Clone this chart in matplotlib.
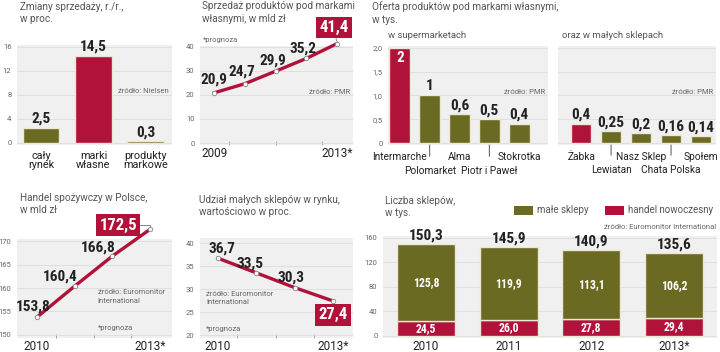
import matplotlib
matplotlib.use('Agg')
import matplotlib.pyplot as plt
from matplotlib.patches import Rectangle

# ---- data ----
share_cats = ['cały\nrynek', 'marki\nwłasne', 'produkty\nmarkowe']
share_vals = [2.5, 14.5, 0.3]

pl_years = ['2009', '2010', '2011', '2012', '2013*']
pl_vals = [20.9, 24.7, 29.9, 35.2, 41.4]

super_names = ['Intermarche', 'Polomarket', 'Alma', 'Piotr i Paweł', 'Stokrotka']
super_vals = [2, 1, 0.6, 0.5, 0.4]

small_names = ['Żabka', 'Lewiatan', 'Nasz Sklep', 'Chata Polska', 'Społem']
small_vals = [0.4, 0.25, 0.2, 0.16, 0.14]

food_years = ['2010', '2011', '2012', '2013*']
food_vals = [153.8, 160.4, 166.8, 172.5]

share_years = ['2010', '2011', '2012', '2013*']
share_small = [36.7, 33.5, 30.3, 27.4]

store_years = ['2010', '2011', '2012', '2013*']
small_stores = [125.8, 119.9, 113.1, 106.2]
modern_stores = [24.5, 26.0, 27.8, 29.4]

# ---- style ----
W, H = 720, 352
RED = '#b0123a'
OLIVE = '#6b6a22'
BG = '#f0f0f0'
GRID = '#dcdcdc'
TXT = '#555555'
EDGE = '#ece6d2'
NUM = ['Liberation Sans Narrow', 'Roboto Condensed', 'DejaVu Sans']
plt.rcParams['font.family'] = ['Roboto', 'DejaVu Sans']

fig = plt.figure(figsize=(W / 100, H / 100), dpi=100)
fig.patch.set_facecolor('white')


def px_axes(x0, y0, x1, y1):
    return fig.add_axes([x0 / W, 1 - y1 / H, (x1 - x0) / W, (y1 - y0) / H])


def ftext(x, y, s, **kw):
    kw.setdefault('color', TXT)
    kw.setdefault('fontsize', 7.2)
    kw.setdefault('va', 'center')
    return fig.text(x / W, 1 - y / H, s, **kw)


def style(ax, yticks, ylabels, show_labels=True):
    ax.set_facecolor(BG)
    for s in ax.spines.values():
        s.set_visible(False)
    ax.set_yticks(yticks)
    ax.set_yticklabels(ylabels if show_labels else [])
    ax.tick_params(axis='y', length=0, labelsize=5.5, labelcolor='#666', pad=4)
    ax.grid(axis='y', color=GRID, lw=0.6)
    ax.set_axisbelow(True)


def fmt(v):
    return str(v).replace('.', ',')


def bar_labels(ax, names, base, near=12, far=26):
    ax.set_xticks([])
    for i, n in enumerate(names):
        if i % 2 == 0:
            ax.annotate(n, xy=(i, base), xytext=(0, -near), textcoords='offset pixels',
                        ha='center', va='center', fontsize=7.3, color='#222', annotation_clip=False)
        else:
            ax.annotate(n, xy=(i, base), xytext=(0, -far), textcoords='offset pixels',
                        ha='center', va='center', fontsize=7.3, color='#222', annotation_clip=False,
                        arrowprops=dict(arrowstyle='-', color='#333', lw=0.6,
                                        shrinkA=5, shrinkB=0))


def line_ticks(ax, last, minor):
    ax.set_xticks([0, last])
    ax.tick_params(axis='x', length=0, labelsize=8.5, labelcolor='#222', pad=1.5)
    ax.set_xticks(minor, minor=True)
    ax.tick_params(axis='x', which='minor', length=3, color='#999', direction='in')


# ---- panel 1: zmiany sprzedazy ----
ftext(20, 13, 'Zmiany sprzedaży, r./r.,\nw proc.', linespacing=1.35)
ax1 = px_axes(17, 45, 172, 145)
style(ax1, [0, 4, 8, 12, 16], ['0', '4', '8', '12', '16'])
ax1.bar(range(3), share_vals, width=0.7, color=[OLIVE, RED, OLIVE], edgecolor=EDGE, lw=1)
ax1.set_xlim(-0.46, 2.5)
ax1.set_ylim(-0.35, 16.25)
for i, v in enumerate(share_vals):
    ax1.annotate(fmt(v), xy=(i, v), xytext=(0, 2), textcoords='offset pixels', ha='center',
                 va='bottom', fontsize=11, fontweight='bold', family=NUM, color='#222')
ax1.set_xticks(range(3))
ax1.set_xticklabels(share_cats, fontsize=7.8, color='#222', linespacing=0.95)
ax1.tick_params(axis='x', length=0, pad=4)
ax1.text(0.98, 0.52, 'źródło: Nielsen', transform=ax1.transAxes, ha='right', fontsize=5.5, color='#666')

# ---- panel 2: sprzedaz marek wlasnych ----
ftext(202, 6, 'Sprzedaż produktów pod markami')
ftext(202, 19, 'własnymi, w mld zł')
ax2 = px_axes(200, 46, 353, 145)
style(ax2, [0, 10, 20, 30, 40], ['0', '10', '20', '30', '40'])
ax2.plot(range(5), pl_vals, color=RED, lw=2.4, marker='o', ms=3.2, mfc='white', mec='#888',
         mew=0.6, clip_on=False, zorder=3)
ax2.set_xlim(-0.46, 4.52)
ax2.set_ylim(-0.83, 40.4)
line_ticks(ax2, 4, [0.5, 2, 3.5])
ax2.set_xticklabels([pl_years[0], pl_years[-1]])
offs = [(0, 13), (-3, 12), (-3, 11), (-3, 10)]
for i, v in enumerate(pl_vals[:-1]):
    ax2.annotate(fmt(v), xy=(i, v), xytext=offs[i], textcoords='offset pixels', ha='center',
                 va='center', fontsize=11, fontweight='bold', family=NUM, color='#222')
ax2.annotate(fmt(pl_vals[-1]), xy=(4, pl_vals[-1]), xytext=(-3, 16), textcoords='offset pixels',
             ha='center', va='center', fontsize=12, fontweight='bold', family=NUM, color='white',
             bbox=dict(boxstyle='square,pad=0.2', fc=RED, ec='none'), annotation_clip=False,
             arrowprops=dict(arrowstyle='-', color='#888', lw=0.7, shrinkA=0, shrinkB=2))
ax2.text(0.02, 1.06, '*prognoza', transform=ax2.transAxes, fontsize=5.5, color='#666', va='center')
ax2.text(0.98, 0.52, 'źródło: PMR', transform=ax2.transAxes, ha='right', fontsize=5.5, color='#666')

# ---- panel 3/4: oferta produktow ----
ftext(372, 13, 'Oferta produktów pod markami własnymi,\nw tys.', linespacing=1.35)
ftext(388, 36, 'w supermarketach', fontsize=6.8)
ftext(562, 36, 'oraz w małych sklepach', fontsize=6.8)
ax3 = px_axes(388, 46, 548, 145)
style(ax3, [0, 0.5, 1, 1.5, 2], ['0', '0,5', '1,0', '1,5', '2,0'])
ax3.bar(range(5), super_vals, width=0.7, color=[RED] + [OLIVE] * 4, edgecolor=EDGE, lw=1)
ax3.set_xlim(-0.4, 4.97)
ax3.set_ylim(-0.042, 2.04)
for i, v in enumerate(super_vals):
    if i == 0:
        ax3.annotate(fmt(v), xy=(i, v), xytext=(0, -10), textcoords='offset pixels', ha='center',
                     va='center', fontsize=11, fontweight='bold', family=NUM, color='white')
    else:
        ax3.annotate(fmt(v), xy=(i, v), xytext=(0, 2), textcoords='offset pixels', ha='center',
                     va='bottom', fontsize=11, fontweight='bold', family=NUM, color='#222')
bar_labels(ax3, super_names, -0.042)
ax3.text(0.98, 0.52, 'źródło: PMR', transform=ax3.transAxes, ha='right', fontsize=5.5, color='#666')

ax4 = px_axes(558, 46, 716, 145)
style(ax4, [0, 0.5, 1, 1.5, 2], [], show_labels=False)
ax4.bar(range(5), small_vals, width=0.68, color=[RED] + [OLIVE] * 4, edgecolor=EDGE, lw=1)
ax4.set_xlim(-0.77, 4.5)
ax4.set_ylim(-0.042, 2.04)
for i, v in enumerate(small_vals):
    ax4.annotate(fmt(v), xy=(i, v), xytext=(0, 2), textcoords='offset pixels', ha='center',
                 va='bottom', fontsize=11, fontweight='bold', family=NUM, color='#222')
bar_labels(ax4, small_names, -0.042, near=12, far=25)
ax4.text(0.98, 0.52, 'źródło: PMR', transform=ax4.transAxes, ha='right', fontsize=5.5, color='#666')

# ---- panel 5: handel spozywczy ----
ftext(20, 204, 'Handel spożywczy w Polsce,\nw mld zł', linespacing=1.35)
ax5 = px_axes(17, 239, 172, 338)
style(ax5, [150, 155, 160, 165, 170], ['150', '155', '160', '165', '170'])
ax5.plot(range(4), food_vals, color=RED, lw=2.4, marker='o', ms=3.2, mfc='white', mec='#888',
         mew=0.6, clip_on=False, zorder=3)
ax5.set_xlim(-0.53, 3.58)
ax5.set_ylim(149.36, 170.43)
line_ticks(ax5, 3, [0.5, 1.5, 2.5])
ax5.set_xticklabels([food_years[0], food_years[-1]])
offs = [(-4, 11), (-15, 10), (-14, 9)]
for i, v in enumerate(food_vals[:-1]):
    ax5.annotate(fmt(v), xy=(i, v), xytext=offs[i], textcoords='offset pixels', ha='center',
                 va='center', fontsize=11, fontweight='bold', family=NUM, color='#222')
ax5.annotate(fmt(food_vals[-1]), xy=(3, food_vals[-1]), xytext=(-32, 4), textcoords='offset pixels',
             ha='center', va='center', fontsize=12, fontweight='bold', family=NUM, color='white',
             bbox=dict(boxstyle='square,pad=0.2', fc=RED, ec='none'), annotation_clip=False,
             arrowprops=dict(arrowstyle='-', color='#888', lw=0.7, shrinkA=0, shrinkB=2,
                             relpos=(1, 0.5), connectionstyle='angle,angleA=0,angleB=90,rad=0'))
ax5.text(0.52, 0.42, 'źródło: Euromonitor\nInternational', transform=ax5.transAxes, fontsize=5.5,
         color='#666', va='center', linespacing=1.5)
ax5.text(0.52, 0.1, '*prognoza', transform=ax5.transAxes, fontsize=5.5, color='#666', va='center')

# ---- panel 6: udzial malych sklepow ----
ftext(199, 206, 'Udział małych sklepów w rynku,\nwartościowo w proc.', linespacing=1.35)
ax6 = px_axes(200, 238, 353, 338)
style(ax6, [20, 25, 30, 35, 40], ['20', '25', '30', '35', '40'])
ax6.plot(range(4), share_small, color=RED, lw=2.4, marker='o', ms=3.2, mfc='white', mec='#888',
         mew=0.6, clip_on=False, zorder=3)
ax6.set_xlim(-0.47, 3.52)
ax6.set_ylim(19.35, 41.09)
line_ticks(ax6, 3, [0.5, 1.5, 2.5])
ax6.set_xticklabels([share_years[0], share_years[-1]])
offs = [(4, 10), (-6, 9), (-4, 10)]
for i, v in enumerate(share_small[:-1]):
    ax6.annotate(fmt(v), xy=(i, v), xytext=offs[i], textcoords='offset pixels', ha='center',
                 va='center', fontsize=11, fontweight='bold', family=NUM, color='#222')
ax6.annotate(fmt(share_small[-1]), xy=(3, share_small[-1]), xytext=(0, -14), textcoords='offset pixels',
             ha='center', va='center', fontsize=12, fontweight='bold', family=NUM, color='white',
             bbox=dict(boxstyle='square,pad=0.2', fc=RED, ec='none'),
             arrowprops=dict(arrowstyle='-', color='#888', lw=0.7, shrinkA=0, shrinkB=2))
ax6.text(0.04, 0.4, 'źródło: Euromonitor\nInternational', transform=ax6.transAxes, fontsize=5.5,
         color='#666', va='center', linespacing=1.5)
ax6.text(0.04, 0.09, '*prognoza', transform=ax6.transAxes, fontsize=5.5, color='#666', va='center')

# ---- panel 7: liczba sklepow ----
ftext(385, 207, 'Liczba sklepów,\nw tys.', linespacing=1.35)
ax7 = px_axes(383, 236, 717, 338)
style(ax7, [0, 40, 80, 120, 160], ['0', '40', '80', '120', '160'])
x = range(4)
ax7.bar(x, modern_stores, width=0.7, color=RED, edgecolor=EDGE, lw=1)
ax7.bar(x, small_stores, width=0.7, bottom=modern_stores, color=OLIVE, edgecolor=EDGE, lw=1)
ax7.set_xlim(-0.52, 3.52)
ax7.set_ylim(-3.3, 163.2)
ax7.set_xticks(list(x))
ax7.set_xticklabels(store_years, fontsize=8.5, color='#222')
ax7.tick_params(axis='x', length=0, pad=1.5)
for i in x:
    tot = modern_stores[i] + small_stores[i]
    ax7.text(i, modern_stores[i] / 2, f'{modern_stores[i]:.1f}'.replace('.', ','), ha='center',
             va='center', fontsize=8.5, fontweight='bold', family=NUM, color='white')
    ax7.text(i, modern_stores[i] + small_stores[i] / 2, f'{small_stores[i]:.1f}'.replace('.', ','),
             ha='center', va='center', fontsize=8.5, fontweight='bold', family=NUM, color='white')
    ax7.annotate(f'{tot:.1f}'.replace('.', ','), xy=(i, tot), xytext=(0, 1), textcoords='offset pixels',
                 ha='center', va='bottom', fontsize=11, fontweight='bold', family=NUM, color='#222')

# legend
for x0, col, lab in [(514, OLIVE, 'małe sklepy'), (605, RED, 'handel nowoczesny')]:
    fig.patches.append(Rectangle((x0 / W, 1 - 215 / H), 19 / W, 9 / H, transform=fig.transFigure,
                                 fc=col, ec='none'))
    ftext(x0 + 23, 210, lab, fontsize=7)
ftext(716, 227, 'źródło: Euromonitor International', fontsize=5.5, color='#666', ha='right')

fig.savefig('out.png', dpi=100)
